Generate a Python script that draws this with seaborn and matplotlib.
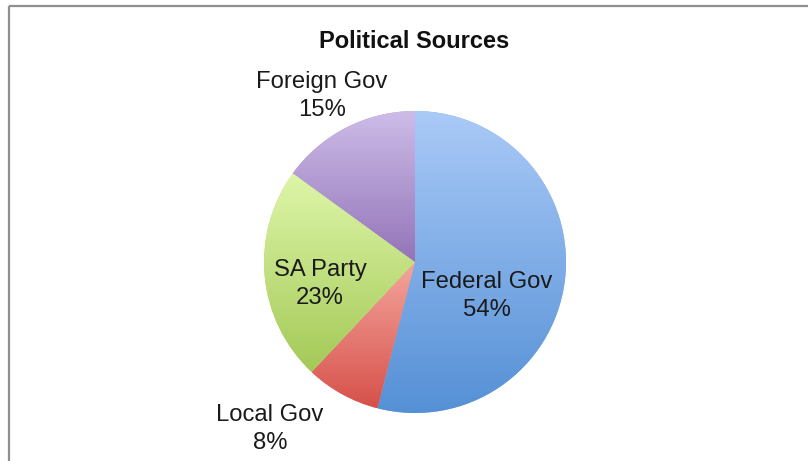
import numpy as np
import matplotlib
matplotlib.use("Agg")
import matplotlib.pyplot as plt
import seaborn as sns

# Funding shares by political source
sources = ["Federal Gov", "Local Gov", "SA Party", "Foreign Gov"]
shares = [54, 8, 23, 15]

# Light (top) to dark (bottom) shades for each slice
shade_top = ["#aacaf7", "#f4a69e", "#def6a9", "#cdbce8"]
shade_bottom = ["#5590d6", "#d6514a", "#a4c957", "#9374b8"]

sns.set_style("white")
plt.rcParams["font.family"] = ["Liberation Sans", "DejaVu Sans"]

W, H = 808, 461
fig = plt.figure(figsize=(W / 100, H / 100), dpi=100)
ax = fig.add_axes([0, 0, 1, 1])
ax.set_xlim(0, W)
ax.set_ylim(0, H)
ax.set_aspect("equal")
ax.axis("off")

center = (415, 461 - 262)
radius = 151

wedges, _ = ax.pie(shares, startangle=90, counterclock=False,
                   center=center, radius=radius, frame=True,
                   wedgeprops=dict(linewidth=0))

grad = np.linspace(0, 1, 256).reshape(-1, 1)
for w, top, bot in zip(wedges, shade_top, shade_bottom):
    cmap = sns.blend_palette([top, bot], as_cmap=True)
    ext = w.get_path().get_extents()
    w.set_facecolor(sns.blend_palette([top, bot], 3)[1])
    im = ax.imshow(grad, cmap=cmap, aspect="auto", origin="upper",
                   extent=(ext.x0, ext.x1, ext.y0, ext.y1), zorder=2,
                   interpolation="bilinear")
    im.set_clip_path(w)

ax.set_xlim(0, W)
ax.set_ylim(0, H)
ax.axis("off")

# Label placement (pixel coordinates, y from the top)
label_pos = {
    "Federal Gov": (487, 296),
    "Local Gov": (270, 429),
    "SA Party": (320, 284),
    "Foreign Gov": (322, 96),
}
for name, val in zip(sources, shares):
    x, y = label_pos[name]
    ax.text(x, H - y, f"{name}\n{val}%", ha="center", va="center",
            fontsize=17.2, color="#1a1a1a", linespacing=1.3, zorder=5)

ax.text(414, H - 42, "Political Sources", ha="center", va="center",
        fontsize=17.0, fontweight="bold", color="#111111", zorder=5)

# Chart frame (left and top edges)
ax.plot([9, 9], [0, H - 6], color="#8f8f8f", lw=1.6, solid_capstyle="butt", zorder=6)
ax.plot([9, W], [H - 6, H - 6], color="#8f8f8f", lw=1.6, solid_capstyle="butt", zorder=6)

fig.savefig("out.png", dpi=100)
